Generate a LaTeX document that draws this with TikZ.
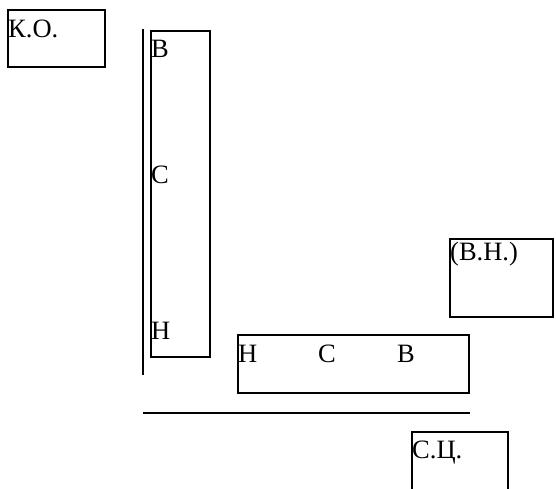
\documentclass[tikz,border=0pt]{standalone}
\usepackage{fontspec}
\setmainfont{Liberation Serif}
\tikzset{
  frame/.style={draw=black, line width=1.3pt, fill=none},
  lbl/.style={anchor=base west, inner sep=0pt, font=\fontsize{26.5}{26.5}\selectfont},
  rule/.style={draw=black, line width=1.6pt}
}
\begin{document}
\begin{tikzpicture}[x=1pt,y=-1pt]
  \useasboundingbox (0,0) rectangle (556,488);
  % boxes
  \path[frame] (8,10) rectangle (105,67);
  \path[frame] (151,31) rectangle (210,357);
  \path[frame] (450,239) rectangle (553,317);
  \path[frame] (238,335) rectangle (469,393);
  \path[frame] (412,432) rectangle (508,500);
  % labels
  \node[lbl] (ko) at (8,37) {К.О.};
  \node[lbl] (v1) at (151,57) {В};
  \node[lbl] (s1) at (151,183) {С};
  \node[lbl] (n1) at (151,339) {Н};
  \node[lbl] (vn) at (450,260) {(В.Н.)};
  \node[lbl] (n2) at (238,362) {Н};
  \node[lbl] (s2) at (318,362) {С};
  \node[lbl] (v2) at (397,362) {В};
  \node[lbl] (sc) at (412,458) {С.Ц.};
  % axis rules
  \coordinate (vtop) at (143,29);
  \coordinate (vbot) at (143,375);
  \coordinate (hl) at (143,413);
  \coordinate (hr) at (470,413);
  \draw[rule] (vtop) -- (vbot);
  \draw[rule] (hl) -- (hr);
\end{tikzpicture}
\end{document}
